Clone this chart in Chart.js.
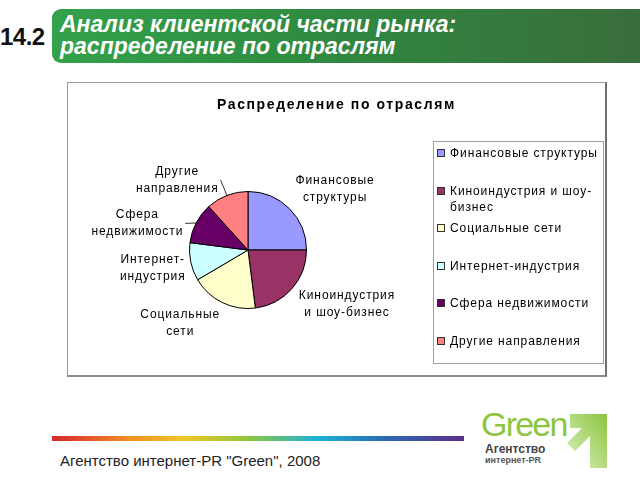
<!DOCTYPE html>
<html>
<head>
<meta charset="utf-8">
<script src="https://cdn.jsdelivr.net/npm/chart.js@4.4.0/dist/chart.umd.min.js"></script>
<style>
  body { margin: 0; width: 640px; height: 480px; background: #fff; position: relative; overflow: hidden;
         font-family: "Liberation Sans", Arial, sans-serif; }
  #num { position: absolute; left: 0; top: 23px; font: bold 24px "Liberation Sans", Arial, sans-serif; color: #111; letter-spacing: -0.5px; }
  #bar { position: absolute; left: 52px; top: 9px; width: 588px; height: 54px; border-radius: 9px 0 0 9px;
         background: linear-gradient(to right, #33a24b, #2f8a40 45%, #3a6d3c); }
  #bar .t { position: absolute; left: 8px; top: 4px; color: #fff; font: italic bold 23px/22px "Liberation Sans", Arial, sans-serif; }
  #box { position: absolute; left: 67px; top: 82px; width: 537px; height: 292px; border: 1px solid #9a9a9a;
         border-right: 2px solid #707070; border-bottom: 2px solid #8a8a8a; }
  #chart { position: absolute; left: 67px; top: 82px; }
  #title { position: absolute; left: 67px; top: 96px; width: 539px; text-align: center;
           font: bold 14px "Liberation Sans", Arial, sans-serif; letter-spacing: 1.6px; color: #000; }
  #legend { position: absolute; left: 433px; top: 141px; width: 169px; height: 221px; border: 1px solid #a0a0a0; }
  .item { position: absolute; left: 0; width: 168px; font: 12px/16px "Liberation Sans", Arial, sans-serif;
          letter-spacing: 0.9px; color: #000; padding-left: 16px; box-sizing: border-box; }
  .item i { position: absolute; left: 3px; top: 4px; width: 6px; height: 6px; border: 1px solid #333; }
  #rainbow { position: absolute; left: 52px; top: 436px; width: 412px; height: 5px;
             background: linear-gradient(to right, #d8262e, #f08a24 18%, #efc72a 32%, #8cc63f 48%, #1fb3d6 64%, #2a6db5 80%, #5b2f8a); }
  #foot { position: absolute; left: 60px; top: 452px; font: 15px "Liberation Sans", Arial, sans-serif; color: #222; }
  #logo { position: absolute; left: 478px; top: 404px; width: 140px; height: 70px; }
  #logo .g { position: absolute; left: 3px; top: 1px; font: 34px "Liberation Sans", Arial, sans-serif; color: #8cc63f; letter-spacing: -1.8px; }
  #logo .a { position: absolute; left: 7px; top: 38px; font: bold 12px "Liberation Sans", Arial, sans-serif; color: #444; }
  #logo .b { position: absolute; left: 7px; top: 51px; font: bold 9px "Liberation Sans", Arial, sans-serif; color: #555; }
  #logo svg { position: absolute; left: 0; top: 0; }
</style>
</head>
<body>
<div id="num">14.2</div>
<div id="bar"><div class="t">Анализ клиентской части рынка:<br>распределение по отраслям</div></div>

<div id="box"></div>
<canvas id="chart" width="539" height="294"></canvas>
<div id="title">Распределение по отраслям</div>
<div id="legend"></div>

<div id="rainbow"></div>
<div id="foot">Агентство интернет-PR "Green", 2008</div>
<div id="logo">
  <svg width="140" height="70">
    <defs><linearGradient id="ag" x1="0" y1="1" x2="1" y2="0">
      <stop offset="0" stop-color="#dcefc0"/><stop offset="1" stop-color="#8cc63f"/></linearGradient></defs>
    <polygon points="92,10 129,10 129,64 112,64 112,32 97,47 89,39 104,24 92,24" fill="url(#ag)"/>
  </svg>
  <div class="g">Green</div>
  <div class="a">Агентство</div>
  <div class="b">интернет-PR</div>
</div>

<script>
const categories = ['Финансовые структуры', 'Киноиндустрия и шоу-бизнес', 'Социальные сети',
                    'Интернет-индустрия', 'Сфера недвижимости', 'Другие направления'];
const legendLines = [['Финансовые структуры'], ['Киноиндустрия и шоу-', 'бизнес'], ['Социальные сети'],
                     ['Интернет-индустрия'], ['Сфера недвижимости'], ['Другие направления']];
const pieLabels = [['Финансовые', 'структуры'], ['Киноиндустрия', 'и шоу-бизнес'], ['Социальные', 'сети'],
                   ['Интернет-', 'индустрия'], ['Сфера', 'недвижимости'], ['Другие', 'направления']];
const shares = [25, 23, 18.5, 10.5, 11.3, 11.7];
const colors = ['#9999FF', '#993366', '#FFFFCC', '#CCFFFF', '#660066', '#FF8080'];

// label placement tweaks (Excel moved some labels by hand)
const labelNudge = [[12, -2], [13, -1], [-21, -2], [2, 1], [-11, 12], [-32, 8]];
const leaders = [false, false, false, false, true, true];

// html legend
const legend = document.getElementById('legend');
legendLines.forEach((lines, i) => {
  const d = document.createElement('div');
  d.className = 'item';
  d.style.top = (3 + i * 37.5) + 'px';
  d.innerHTML = '<i style="background:' + colors[i] + '"></i>' + lines.join('<br>');
  legend.appendChild(d);
});

const outLabels = {
  id: 'outLabels',
  afterDatasetsDraw(chart) {
    const ctx = chart.ctx;
    const meta = chart.getDatasetMeta(0);
    const lineH = 17, gap = 8;
    ctx.save();
    ctx.font = '12px "Liberation Sans", Arial, sans-serif';
    ctx.letterSpacing = '0.9px';
    ctx.fillStyle = '#000';
    ctx.textAlign = 'center';
    ctx.textBaseline = 'middle';
    meta.data.forEach((arc, i) => {
      const p = arc.getProps(['x', 'y', 'startAngle', 'endAngle', 'outerRadius'], true);
      const mid = (p.startAngle + p.endAngle) / 2;
      const dx = Math.cos(mid), dy = Math.sin(mid);
      const lines = pieLabels[i];
      const w = Math.max(...lines.map(l => ctx.measureText(l).width));
      const h = lines.length * lineH;
      const ax = p.x + dx * (p.outerRadius + gap);
      const ay = p.y + dy * (p.outerRadius + gap);
      const cx = ax + dx * w / 2 + labelNudge[i][0];
      const cy = ay + dy * h / 2 + labelNudge[i][1];
      lines.forEach((l, j) => ctx.fillText(l, cx, cy + (j - (lines.length - 1) / 2) * lineH));
      if (leaders[i]) {
        const ex = cx < p.x ? cx + w / 2 + 2 : cx - w / 2 - 2;
        ctx.beginPath();
        ctx.strokeStyle = '#000';
        ctx.lineWidth = 0.8;
        ctx.moveTo(p.x + dx * p.outerRadius, p.y + dy * p.outerRadius);
        ctx.lineTo(ex, cy);
        ctx.stroke();
      }
    });
    ctx.restore();
  }
};

new Chart(document.getElementById('chart'), {
  type: 'pie',
  data: {
    labels: categories,
    datasets: [{
      data: shares,
      backgroundColor: colors,
      borderColor: '#000',
      borderWidth: 1
    }]
  },
  options: {
    responsive: false,
    animation: false,
    layout: { padding: { left: 122, right: 299, top: 109, bottom: 67 } },
    plugins: {
      legend: { display: false },
      tooltip: { enabled: false },
      title: { display: false }
    }
  },
  plugins: [outLabels]
});
</script>
</body>
</html>
